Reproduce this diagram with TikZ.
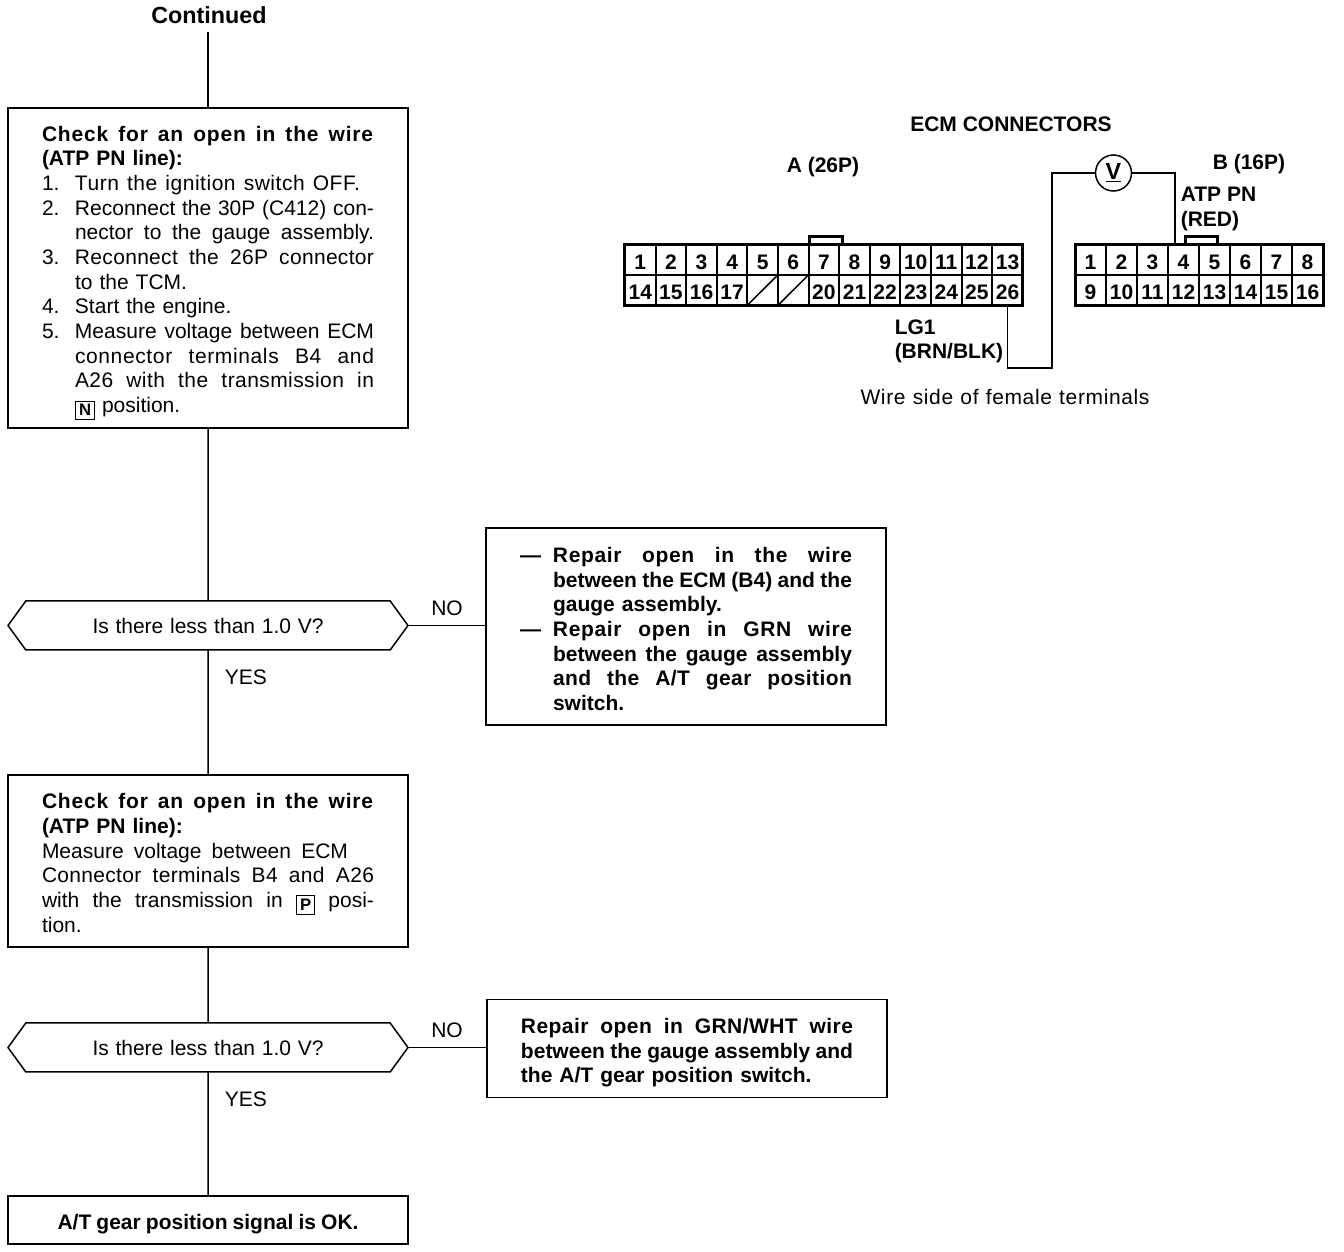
\documentclass[tikz,border=0pt]{standalone}
\usepackage{fontspec}
\setmainfont{Liberation Sans}
\usetikzlibrary{shapes.symbols, positioning, calc}
\newcommand{\fitline}[2]{\leavevmode\hbox to #1{\spaceskip=0.278em plus 1fil minus 0.12em\relax #2}}
\newcommand{\fullline}[1]{\fitline{199.2pt}{#1}}
\newcommand{\stepline}[2]{\makebox[19.8pt][l]{#1}\fitline{179.4pt}{#2}}
\newcommand{\hangline}[2]{\makebox[19.8pt][l]{#1}#2}
\newcommand{\spread}[1]{\addfontfeature{LetterSpace=#1}}
\newcommand{\gearbox}[1]{\raisebox{-2pt}{\setlength{\fboxsep}{1.8pt}\setlength{\fboxrule}{0.6pt}\fbox{\fontsize{10}{10}\selectfont\bfseries #1}}}
\begin{document}
\begin{tikzpicture}[
    x=0.6pt, y=-0.6pt,
    line width=0.9pt,
    drop/.style={execute at begin node={\rule{0pt}{#1}}},
    stepbox/.style={draw, minimum width=240pt, inner xsep=20.4pt, inner ysep=0pt, outer sep=0pt, text width=199.2pt, align=left, font=\fontsize{12.6}{14.8}\selectfont},
    repairbox/.style={stepbox, font=\fontsize{12.6}{14.8}\selectfont\bfseries},
    decision/.style={draw, signal, signal to=east and west, signal pointer angle=108, minimum width=240pt, minimum height=29.4pt, inner sep=0pt, outer sep=0pt, font=\fontsize{12.6}{14.8}\selectfont},
    label/.style={font=\fontsize{12.6}{14.8}\selectfont, inner sep=0pt},
    boldlabel/.style={label, font=\fontsize{12.6}{14.8}\selectfont\bfseries},
    pin/.style={draw, minimum width=18.45pt, minimum height=18.3pt, inner sep=0pt, outer sep=0pt, line width=1pt, text height=11.4pt, text depth=0pt, font=\fontsize{12.6}{14.8}\selectfont\bfseries},
    wire/.style={line width=0.9pt},
    housing/.style={line width=1.8pt}
  ]
  \useasboundingbox (0,0) rectangle (1344,1252);

  \node[label, font=\fontsize{14}{16}\selectfont\bfseries] (continued) at (209,15) {Continued};
  \node[stepbox, anchor=north, minimum height=192pt, drop=15.2pt] (check1) at (208,108) {%
    \fullline{\textbf{\spread{4}Check for an open in the wire}}\\
    \textbf{(ATP PN line):}\\
    \makebox[19.8pt][l]{1.}\fitline{171pt}{\spread{2.5}Turn the ignition switch OFF.}\\
    \stepline{2.}{Reconnect the 30P (C412) con-}\\
    \stepline{}{nector to the gauge assembly.}\\
    \stepline{3.}{\spread{1.5}Reconnect the 26P connector}\\
    \hangline{}{to the TCM.}\\
    \hangline{4.}{Start the engine.}\\
    \stepline{5.}{Measure voltage between ECM}\\
    \stepline{}{\spread{3}connector terminals B4 and}\\
    \stepline{}{\spread{2}A26 with the transmission in}\\
    \hangline{}{\gearbox{N} position.}};
  \node[decision, below=103.8pt of check1] (less1) {\fitline{138.6pt}{Is there less than 1.0 V?}};
  \node[repairbox, right=46.8pt of less1, yshift=-0.6pt, minimum height=118.2pt, drop=12pt] (repair1) {%
    \stepline{---}{\spread{3}Repair open in the wire}\\
    \stepline{}{between the ECM (B4) and the}\\
    \hangline{}{gauge assembly.}\\
    \stepline{---}{\spread{3}Repair open in GRN wire}\\
    \stepline{}{between the gauge assembly}\\
    \stepline{}{\spread{2}and the A/T gear position}\\
    \hangline{}{switch.}};
  \node[stepbox, below=75pt of less1, minimum height=103.2pt, drop=11.6pt] (check2) {%
    \fullline{\textbf{\spread{4}Check for an open in the wire}}\\
    \textbf{(ATP PN line):}\\
    \fitline{183.6pt}{Measure voltage between ECM}\\
    \fullline{\spread{1.5}Connector terminals B4 and A26}\\
    \fullline{with the transmission in \gearbox{P} posi-}\\
    tion.};
  \node[decision, below=45.6pt of check2] (less2) {\fitline{138.6pt}{Is there less than 1.0 V?}};
  \node[repairbox, right=47.4pt of less2, yshift=-0.6pt, minimum height=58.8pt, drop=14.2pt] (repair2) {%
    \fullline{\spread{2}Repair open in GRN/WHT wire}\\
    \fullline{between the gauge assembly and}\\
    the A/T gear position switch.};
  \node[repairbox, below=74.4pt of less2, minimum height=28.8pt, align=center, drop=14pt] (signalok) {\fitline{180.6pt}{A/T gear position signal is OK.}};

  \draw (continued.south) ++(-1,8) coordinate (start) -- (check1.north);
  \draw (check1) -- (less1);
  \draw (less1) -- (check2);
  \draw (check2) -- (less2);
  \draw (less2) -- (signalok);
  \draw (less1.east) -- (repair1.west |- less1.east);
  \draw (less2.east) -- (repair2.west |- less2.east);

  \node[label, above=5.5pt of less1.east, xshift=23.4pt, anchor=south] (no1) {NO};
  \node[label, above=5.5pt of less2.east, xshift=23.4pt, anchor=south] (no2) {NO};
  \node[label, anchor=west] (yes1) at (224,677) {YES};
  \node[label, anchor=west] (yes2) at (224,1099) {YES};

  % connector A
  \foreach \n in {1,...,13}
    \node[pin] (a\n) at ({640.3+30.6*(\n-1)},259.5) {\n};
  \foreach \n in {14,...,26}
    \node[pin] (a\n) at ({640.3+30.6*(\n-14)},290) {\ifnum\n=18 \else\ifnum\n=19 \else\n\fi\fi};
  \draw (a18.south west) -- (a18.north east);
  \draw (a19.south west) -- (a19.north east);
  \draw[housing] (a1.north west) rectangle (a26.south east);
  \draw[housing] (809,244) |- (842,236) -- (842,244);

  % connector B
  \foreach \n in {1,...,8}
    \node[pin, minimum width=18.6pt] (b\n) at ({1090.5+31*(\n-1)},259.5) {\n};
  \foreach \n in {9,...,16}
    \node[pin, minimum width=18.6pt] (b\n) at ({1090.5+31*(\n-9)},290) {\n};
  \draw[housing] (b1.north west) rectangle (b16.south east);
  \draw[housing] (1185,244) |- (1217,236) -- (1217,244);

  \node[boldlabel] (ecm) at (1011,124) {ECM CONNECTORS};
  \node[boldlabel] (conna) at (823,167) {A (26P)};
  \node[boldlabel] (connb) at (1249,164) {B (16P)};
  \node[boldlabel, anchor=west] (atp) at (1180,194) {ATP PN};
  \node[boldlabel, anchor=west] (red) at (1180,221) {(RED)};
  \node[boldlabel, anchor=west] (lgone) at (894,327) {LG1};
  \node[boldlabel, anchor=west] (brn) at (894,353) {(BRN/BLK)};
  \node[label] (wireside) at (1005,397) {\fitline{173.4pt}{\spread{3}Wire side of female terminals}};

  \node[draw, circle, minimum size=21.6pt, inner sep=0pt, outer sep=0pt, font=\fontsize{14}{16}\selectfont\bfseries] (meter) at (1113.5,173) {\underline{V}};
  \coordinate (termb) at (1175,243);
  \draw[wire] (a26.south) |- (1052,368) |- (meter.west);
  \draw[wire] (meter.east) -| (termb);
\end{tikzpicture}
\end{document}
